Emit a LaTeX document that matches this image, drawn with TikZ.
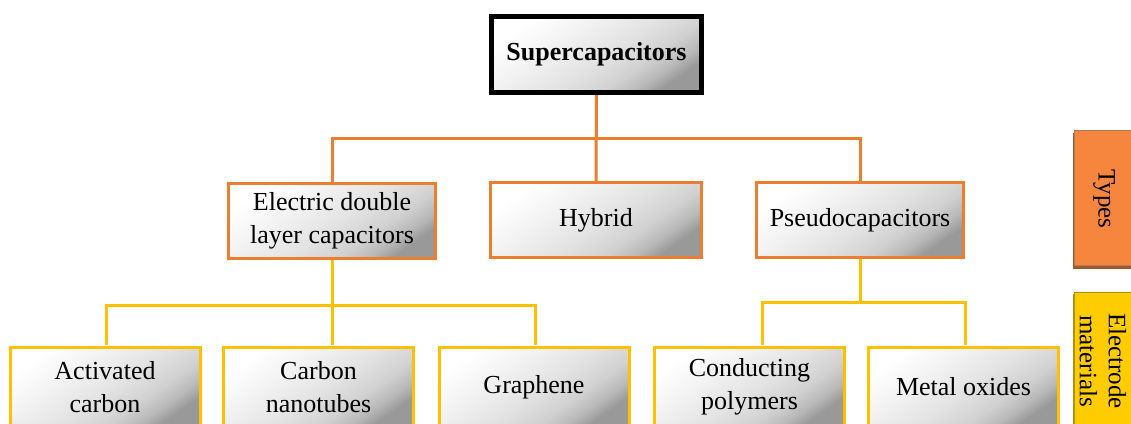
\documentclass[tikz,border=0pt]{standalone}
\usepackage{fontspec}
\setmainfont{Liberation Serif}
\usepackage{tikz}
\usetikzlibrary{positioning,calc}

\definecolor{typeorange}{HTML}{ED7D31}
\definecolor{matyellow}{HTML}{FFC000}
\definecolor{tagorange}{HTML}{F6853D}
\definecolor{tagbrown}{HTML}{9C5A2E}
\definecolor{tagyellow}{HTML}{FFCC00}
\definecolor{tagolive}{HTML}{B39013}

\pgfdeclareverticalshading{boxgrad}{100bp}{color(0bp)=(black!40); color(25bp)=(black!40);
  color(30bp)=(black!28); color(37bp)=(black!18); color(48bp)=(black!11); color(62bp)=(black!5); color(75bp)=(white); color(100bp)=(white)}

\begin{document}
\begin{tikzpicture}[x=1pt,y=-1pt,
  font=\fontsize{26}{33}\selectfont,
  grad/.style={shading=boxgrad,shading angle=35,align=center,inner sep=0pt},
  topbox/.style={grad,draw=black,line width=5pt,minimum width=210pt,minimum height=76pt,font=\fontsize{26}{32}\selectfont\bfseries},
  typebox/.style={grad,draw=typeorange,line width=3pt,minimum height=75pt},
  matbox/.style={grad,draw=matyellow,line width=3pt,minimum width=190pt,minimum height=80pt},
  typeline/.style={draw=typeorange,line width=3pt},
  matline/.style={draw=matyellow,line width=3pt}]
  \clip (0,0) rectangle (1131,423);
  \fill[white] (0,0) rectangle (1131,423);

  % top
  \node[topbox] (sc) at (596.5,54.5) {Supercapacitors};

  % types
  \node[typebox,minimum width=207pt] (edlc) at (332,221) {Electric double\\layer capacitors};
  \node[typebox,minimum width=211pt] (hyb) at (596,220) {Hybrid};
  \node[typebox,minimum width=207pt] (pseudo) at (860,220) {Pseudocapacitors};

  % electrode materials
  \node[matbox] (ac) at (105,387) {Activated\\carbon};
  \node[matbox] (cn) at (318.5,387) {Carbon\\nanotubes};
  \node[matbox] (gr) at (534,387) {Graphene};
  \node[matbox] (cp) at (749.5,387) {Conducting\\polymers};
  \node[matbox] (mo) at (963.5,387) {Metal oxides};

  % connectors
  \coordinate (j1) at (sc.south |- 0,138);
  \draw[typeline] (sc.south) -- (hyb.north);
  \draw[typeline] (edlc.north) |- (j1) -| (pseudo.north);

  \coordinate (j2) at (edlc.south |- 0,305);
  \coordinate (acin) at (106,345);
  \coordinate (cnin) at (332,345);
  \coordinate (grin) at (535,345);
  \draw[matline] (edlc.south) -- (cnin);
  \draw[matline] (acin) |- (j2) -| (grin);

  \coordinate (j3) at (pseudo.south |- 0,302);
  \coordinate (cpin) at (762,345);
  \coordinate (moin) at (965,345);
  \draw[matline] (pseudo.south) -- (j3);
  \draw[matline] (cpin) |- (j3) -| (moin);

  % side tags
  \fill[tagbrown] (1073,133) rectangle (1145,269);
  \filldraw[fill=tagorange,draw=tagbrown!80,line width=1pt] (1074,130) rectangle (1145,265);
  \node[rotate=-90,font=\fontsize{25}{30}\selectfont] (types) at (1104,199) {Types};

  \fill[tagolive] (1073,294) rectangle (1145,430);
  \filldraw[fill=tagyellow,draw=tagolive,line width=1pt] (1074,292) rectangle (1145,430);
  \node[rotate=-90,align=center,font=\fontsize{25}{29}\selectfont] (mats) at (1103,361) {Electrode\\materials};
\end{tikzpicture}
\end{document}
